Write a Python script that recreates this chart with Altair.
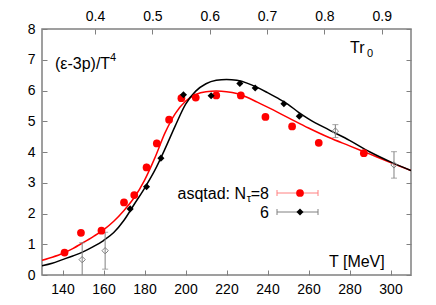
import altair as alt
import pandas as pd

# ---------------- data ----------------
red_T = [141, 149, 159, 170, 175, 181, 186, 192, 198, 205, 215, 227, 239, 252, 265, 287]
red_v = [0.73, 1.37, 1.44, 2.36, 2.60, 3.50, 4.28, 5.05, 5.75, 5.77, 5.84, 5.84, 5.14, 4.83, 4.30, 3.96]
red_e = [0.08, 0.10, 0.08, 0.10, 0.10, 0.12, 0.12, 0.12, 0.12, 0.10, 0.10, 0.12, 0.10, 0.10, 0.08, 0.08]

blk_T = [173, 181, 188, 199, 212.5, 226.5, 234, 248, 255.5]
blk_v = [2.15, 2.87, 3.80, 5.86, 5.83, 6.23, 6.08, 5.57, 5.16]

open_T = [149.6, 160.8, 273.1, 301.7]
open_v = [0.50, 0.79, 4.68, 3.58]
open_e = [0.55, 0.60, 0.21, 0.43]

red_fit_T = [130, 135, 140, 145, 150, 155, 160, 165, 170, 175, 180, 185, 190, 195, 200, 205,
             210, 215, 220, 225, 230, 235, 240, 250, 260, 270, 280, 290, 300, 310]
red_fit_v = [0.48, 0.58, 0.70, 0.86, 1.05, 1.25, 1.47, 1.75, 2.10, 2.52, 3.08, 3.80, 4.62, 5.25,
             5.65, 5.87, 5.96, 5.98, 5.96, 5.90, 5.78, 5.62, 5.46, 5.12, 4.78, 4.47, 4.20, 3.93, 3.66, 3.40]

blk_fit_T = [130, 135, 140, 145, 150, 155, 160, 165, 170, 175, 180, 185, 190, 195, 200, 205,
             210, 215, 220, 225, 230, 235, 240, 245, 250, 255, 260, 270, 280, 290, 300, 310]
blk_fit_v = [0.30, 0.38, 0.50, 0.62, 0.75, 0.92, 1.12, 1.38, 1.78, 2.30, 2.82, 3.40, 4.10, 4.85,
             5.55, 5.98, 6.22, 6.33, 6.36, 6.33, 6.24, 6.10, 5.93, 5.75, 5.55, 5.30, 5.08, 4.72,
             4.38, 4.00, 3.68, 3.40]

x_ticks = [140, 160, 180, 200, 220, 240, 260, 280, 300]
y_ticks = [0, 1, 2, 3, 4, 5, 6, 7, 8]
top_ticks = [0.4, 0.5, 0.6, 0.7, 0.8, 0.9]
top_domain = [0.3075, 0.9511]

FONT = "Liberation Sans"
GRAY = "#808080"

red_df = pd.DataFrame({"T": red_T, "v": red_v, "lo": [a - b for a, b in zip(red_v, red_e)],
                       "hi": [a + b for a, b in zip(red_v, red_e)]})
blk_df = pd.DataFrame({"T": blk_T, "v": blk_v})
open_df = pd.DataFrame({"T": open_T, "v": open_v, "lo": [a - b for a, b in zip(open_v, open_e)],
                        "hi": [a + b for a, b in zip(open_v, open_e)]})
red_fit = pd.DataFrame({"T": red_fit_T, "v": red_fit_v})
blk_fit = pd.DataFrame({"T": blk_fit_T, "v": blk_fit_v})


def xs():
    return alt.Scale(domain=[130, 310], nice=False, zero=False)


def ys():
    return alt.Scale(domain=[0, 8], nice=False, zero=False)


ax_common = dict(domain=False, grid=False, tickSize=5, offset=-5, tickColor=GRAY, tickWidth=1,
                 labelFont=FONT, labelFontSize=14, labelColor="black", title=None)

X_main = alt.X("T:Q", scale=xs(), axis=alt.Axis(orient="bottom", values=x_ticks, labelPadding=7,
                                                 **ax_common))
Y_left = alt.Y("v:Q", scale=ys(), axis=alt.Axis(orient="left", values=y_ticks, labelPadding=7,
                                                 **ax_common))
Y_right = alt.Y("v:Q", scale=ys(), axis=alt.Axis(orient="right", values=y_ticks, labels=False,
                                                  **ax_common))
Xn = alt.X("T:Q", scale=xs(), axis=None)
Yn = alt.Y("v:Q", scale=ys(), axis=None)

red_line = alt.Chart(red_fit).mark_line(color="#ff0000", strokeWidth=1.5, interpolate="monotone",
                                        clip=True).encode(x=X_main, y=Y_left)
blk_line = alt.Chart(blk_fit).mark_line(color="black", strokeWidth=1.5, interpolate="monotone",
                                        clip=True).encode(x=Xn, y=Y_right)

red_err = alt.Chart(red_df).mark_rule(color="#ff8080", strokeWidth=1, clip=True).encode(
    x=Xn, y=alt.Y("lo:Q", scale=ys(), axis=None), y2="hi:Q")
red_pts = alt.Chart(red_df).mark_circle(color="#ff0000", size=60, opacity=1).encode(x=Xn, y=Yn)

blk_pts = alt.Chart(blk_df).mark_point(shape="diamond", filled=True, color="black", size=50,
                                       opacity=1).encode(x=Xn, y=Yn)

open_err = alt.Chart(open_df).mark_rule(color=GRAY, strokeWidth=1, clip=True).encode(
    x=Xn, y=alt.Y("lo:Q", scale=ys(), axis=None), y2="hi:Q")
open_cap_lo = alt.Chart(open_df).mark_tick(color=GRAY, orient="horizontal", size=6, thickness=1,
                                           clip=True).encode(x=Xn, y=alt.Y("lo:Q", scale=ys(), axis=None))
open_cap_hi = alt.Chart(open_df).mark_tick(color=GRAY, orient="horizontal", size=6, thickness=1,
                                           clip=True).encode(x=Xn, y=alt.Y("hi:Q", scale=ys(), axis=None))
open_pts = alt.Chart(open_df).mark_point(shape="diamond", filled=False, color=GRAY, size=40,
                                         strokeWidth=1, opacity=1).encode(x=Xn, y=Yn)

one = pd.DataFrame({"a": [0]})


def txt(s, x, y, size=16, align="left", baseline="alphabetic"):
    return alt.Chart(one).mark_text(text=s, font=FONT, fontSize=size, color="black", align=align,
                                    baseline=baseline).encode(x=alt.value(x), y=alt.value(y))


# legend (pixel positions relative to plot area)
LX1, LX2, LXD = 235, 276, 258
RY, BY = 164, 183
legend = [
    alt.Chart(one).mark_rule(color="#ff8080", strokeWidth=1).encode(
        x=alt.value(LX1), x2=alt.value(LX2), y=alt.value(RY)),
    alt.Chart(one).mark_rule(color="#ff8080", strokeWidth=1).encode(
        x=alt.value(LX1), y=alt.value(RY - 3), y2=alt.value(RY + 3)),
    alt.Chart(one).mark_rule(color="#ff8080", strokeWidth=1).encode(
        x=alt.value(LX2), y=alt.value(RY - 3), y2=alt.value(RY + 3)),
    alt.Chart(one).mark_circle(color="#ff0000", size=60, opacity=1).encode(
        x=alt.value(LXD), y=alt.value(RY)),
    alt.Chart(one).mark_rule(color=GRAY, strokeWidth=1).encode(
        x=alt.value(LX1), x2=alt.value(LX2), y=alt.value(BY)),
    alt.Chart(one).mark_rule(color=GRAY, strokeWidth=1).encode(
        x=alt.value(LX1), y=alt.value(BY - 3), y2=alt.value(BY + 3)),
    alt.Chart(one).mark_rule(color=GRAY, strokeWidth=1).encode(
        x=alt.value(LX2), y=alt.value(BY - 3), y2=alt.value(BY + 3)),
    alt.Chart(one).mark_point(shape="diamond", filled=True, color="black", size=50, opacity=1).encode(
        x=alt.value(LXD), y=alt.value(BY)),
    txt("=8", 227, RY + 6, align="right"),
    txt("τ", 209, RY + 9, size=11, align="right"),
    txt("asqtad: N", 204, RY + 6, align="right"),
    txt("6", 227, BY + 6, align="right"),
]

labels = [
    txt("(ε-3p)/T", 13, 40),
    txt("4", 68, 32, size=11),
    txt("Tr", 308, 24),
    txt("0", 325, 28, size=11),
    txt("T [MeV]", 287, 238),
]

top = alt.Chart(pd.DataFrame({"tr": top_domain})).mark_point(opacity=0).encode(
    x=alt.X("tr:Q", scale=alt.Scale(domain=top_domain, nice=False, zero=False),
            axis=alt.Axis(orient="top", values=top_ticks, format=".1f", labelPadding=6, **ax_common)),
    y=alt.value(0))

chart = alt.layer(red_line, blk_line, red_err, open_err, open_cap_lo, open_cap_hi, open_pts,
                  red_pts, blk_pts, *legend, *labels, top).resolve_scale(
    x="independent").resolve_axis(x="independent", y="independent").properties(
    width=369, height=246, autosize="none",
    padding={"left": 34, "top": 21, "right": 17, "bottom": 22},
).configure_view(stroke=GRAY, strokeWidth=1.5)

chart.save("out.html", embed_options={"renderer": "svg", "actions": False})
